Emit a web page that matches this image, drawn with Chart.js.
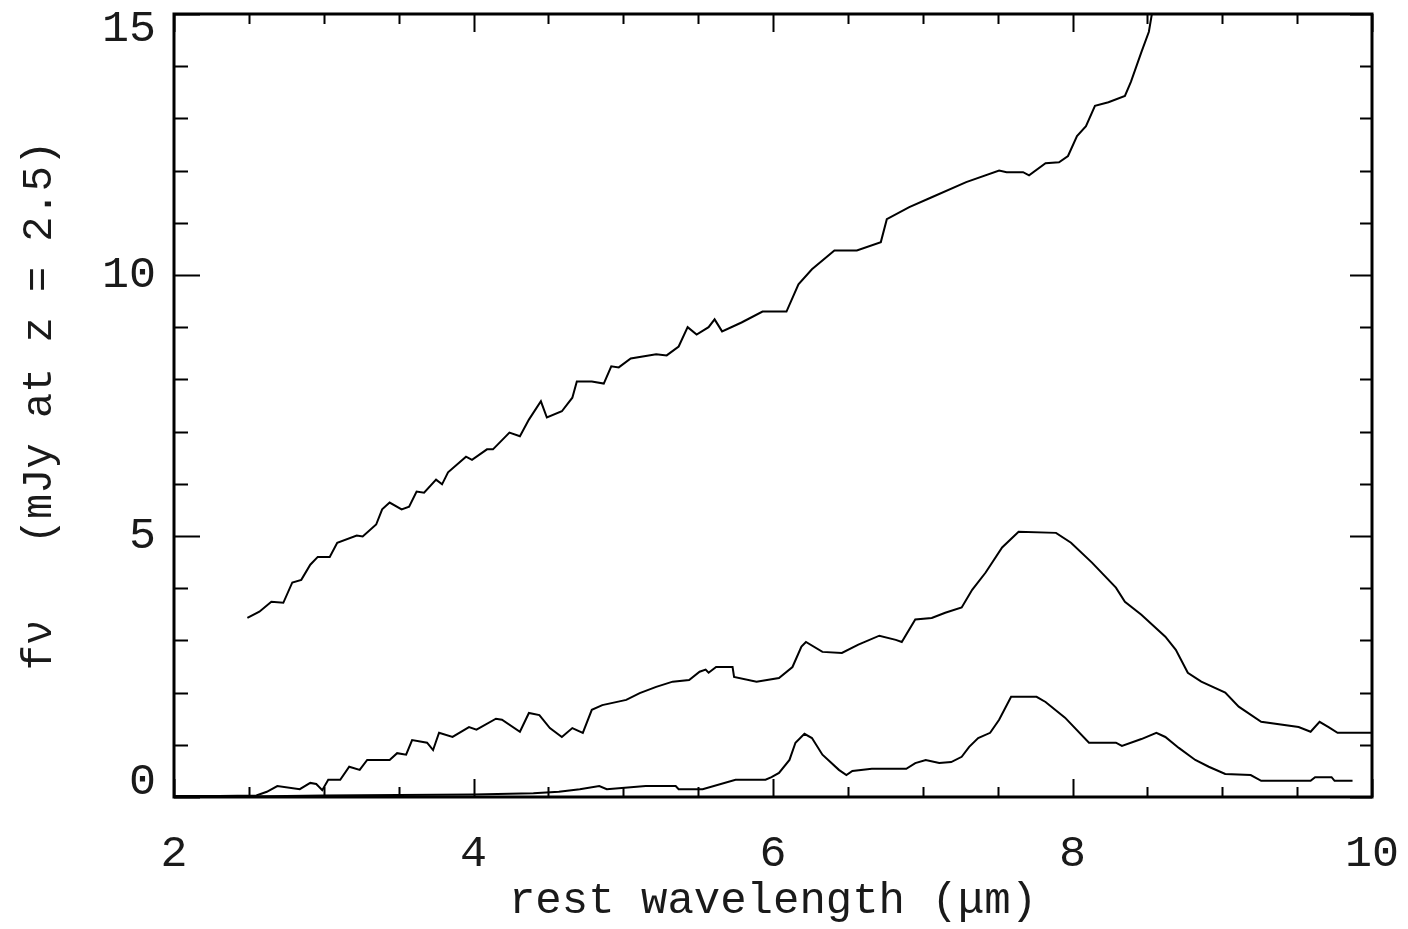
<!DOCTYPE html>
<html>
<head>
<meta charset="utf-8">
<script src="https://cdn.jsdelivr.net/npm/chart.js@4/dist/chart.umd.min.js"></script>
<style>
  html, body { margin: 0; padding: 0; background: #fff; }
  #wrap { width: 1408px; height: 929px; }
</style>
</head>
<body>
<div id="wrap"><canvas id="c" width="1408" height="929"></canvas></div>
<script>
// ---- data ----
const waveTop = [2.49,2.57,2.65,2.73,2.79,2.85,2.91,2.96,3.04,3.09,3.22,3.26,3.35,3.39,3.44,3.52,3.57,3.62,3.67,3.75,3.79,3.83,3.95,3.99,4.09,4.13,4.24,4.31,4.37,4.45,4.49,4.59,4.66,4.69,4.79,4.87,4.92,4.97,5.05,5.22,5.29,5.37,5.43,5.49,5.57,5.61,5.66,5.79,5.93,6.09,6.17,6.26,6.41,6.56,6.72,6.76,6.91,7.06,7.29,7.51,7.56,7.67,7.71,7.82,7.91,7.97,8.03,8.09,8.15,8.24,8.35,8.39,8.46,8.51,8.53,8.55];
const fluxTop = [3.43,3.55,3.74,3.72,4.11,4.16,4.45,4.60,4.60,4.87,5.01,4.99,5.22,5.51,5.64,5.51,5.56,5.85,5.83,6.08,5.99,6.22,6.52,6.46,6.66,6.66,6.98,6.91,7.23,7.58,7.27,7.39,7.65,7.96,7.96,7.92,8.25,8.23,8.40,8.48,8.46,8.63,9.00,8.86,9.00,9.15,8.92,9.09,9.30,9.30,9.82,10.11,10.47,10.47,10.63,11.07,11.30,11.49,11.78,12.00,11.97,11.97,11.91,12.14,12.16,12.28,12.66,12.85,13.24,13.31,13.43,13.70,14.27,14.66,15.0,15.4];

const waveMid = [2.00,2.30,2.55,2.62,2.69,2.84,2.91,2.95,2.99,3.03,3.11,3.17,3.24,3.29,3.44,3.49,3.55,3.59,3.69,3.73,3.77,3.86,3.97,4.02,4.15,4.19,4.31,4.37,4.44,4.51,4.59,4.66,4.73,4.79,4.86,5.02,5.11,5.22,5.33,5.44,5.51,5.55,5.57,5.62,5.73,5.74,5.89,6.04,6.13,6.19,6.22,6.33,6.46,6.57,6.71,6.82,6.86,6.95,7.06,7.15,7.26,7.33,7.42,7.53,7.64,7.89,7.99,8.13,8.29,8.35,8.46,8.62,8.69,8.77,8.86,9.02,9.11,9.26,9.51,9.59,9.65,9.71,9.77,9.97,10.0];
const fluxMid = [0.02,0.02,0.03,0.10,0.21,0.15,0.27,0.25,0.13,0.33,0.33,0.58,0.52,0.71,0.71,0.84,0.81,1.09,1.04,0.90,1.23,1.15,1.34,1.29,1.50,1.48,1.25,1.61,1.57,1.32,1.15,1.32,1.23,1.67,1.76,1.86,1.99,2.11,2.21,2.24,2.40,2.44,2.38,2.49,2.49,2.30,2.21,2.28,2.49,2.88,2.97,2.78,2.76,2.92,3.09,3.01,2.97,3.40,3.43,3.53,3.63,3.97,4.30,4.78,5.08,5.06,4.87,4.49,4.01,3.74,3.49,3.07,2.82,2.38,2.21,2.00,1.73,1.44,1.34,1.25,1.44,1.34,1.23,1.23,1.23];

const waveLow = [2.00,2.50,3.00,3.50,4.00,4.40,4.57,4.71,4.84,4.89,5.15,5.35,5.37,5.53,5.75,5.95,5.99,6.04,6.11,6.15,6.21,6.26,6.33,6.44,6.49,6.53,6.66,6.89,6.95,7.02,7.11,7.19,7.26,7.31,7.37,7.45,7.51,7.59,7.76,7.82,7.95,8.11,8.29,8.33,8.46,8.56,8.62,8.71,8.82,8.91,9.02,9.19,9.26,9.59,9.62,9.73,9.75,9.87];
const fluxLow = [0.00,0.01,0.03,0.04,0.05,0.07,0.10,0.15,0.21,0.15,0.21,0.21,0.15,0.15,0.33,0.33,0.38,0.46,0.71,1.04,1.21,1.13,0.81,0.52,0.42,0.50,0.54,0.54,0.65,0.71,0.65,0.67,0.77,0.96,1.13,1.23,1.48,1.92,1.92,1.82,1.52,1.04,1.04,0.98,1.11,1.23,1.15,0.94,0.71,0.58,0.44,0.42,0.31,0.31,0.38,0.38,0.31,0.31];

const xTitle = 'rest wavelength (\u03BCm)';
const yTitle = 'f\u03BD   (mJy at z = 2.5)';
const xRange = [2, 10];
const yRange = [0, 15];

// ---- build ----
const toPts = (xs, ys) => xs.map((v, i) => ({ x: v, y: ys[i] }));
const FONT = 'Liberation Mono';
const INK = '#1a1a1a';

const lineDs = (xs, ys) => ({
  data: toPts(xs, ys),
  borderColor: '#000',
  borderWidth: 2,
  pointRadius: 0,
  tension: 0,
  fill: false
});

const frameTicks = {
  id: 'frameTicks',
  afterDatasetsDraw(chart) {
    const { ctx, chartArea: a, scales } = chart;
    const x = scales.x, y = scales.y;
    ctx.save();
    ctx.strokeStyle = '#000';
    ctx.lineWidth = 2;
    ctx.beginPath();
    for (let v = x.min; v <= x.max + 1e-9; v += 0.5) {
      const px = Math.round(x.getPixelForValue(v)) + 0.5;
      const major = Math.abs(v / 2 - Math.round(v / 2)) < 1e-9;
      const len = major ? 18 : 10;
      ctx.moveTo(px, a.bottom); ctx.lineTo(px, a.bottom - len);
      ctx.moveTo(px, a.top); ctx.lineTo(px, a.top + len);
    }
    for (let v = y.min; v <= y.max + 1e-9; v += 1) {
      const py = Math.round(y.getPixelForValue(v)) + 0.5;
      const major = v % 5 === 0;
      ctx.moveTo(a.left, py); ctx.lineTo(a.left + (major ? 26 : 14), py);
      ctx.moveTo(a.right, py); ctx.lineTo(a.right - (major ? 22 : 12), py);
    }
    ctx.stroke();
    ctx.lineWidth = 3;
    ctx.strokeRect(a.left, a.top, a.right - a.left, a.bottom - a.top);
    ctx.restore();
  }
};

new Chart(document.getElementById('c'), {
  type: 'line',
  data: { datasets: [lineDs(waveTop, fluxTop), lineDs(waveMid, fluxMid), lineDs(waveLow, fluxLow)] },
  options: {
    responsive: false,
    animation: false,
    events: [],
    layout: { padding: { left: 0, top: 14, right: 36, bottom: 0 } },
    plugins: { legend: { display: false }, tooltip: { enabled: false } },
    scales: {
      x: {
        type: 'linear',
        min: xRange[0], max: xRange[1],
        grid: { display: false, drawTicks: false },
        border: { display: false },
        ticks: { stepSize: 2, color: INK, padding: 30, font: { family: FONT, size: 45 }, maxRotation: 0 },
        title: { display: true, text: xTitle, color: INK, font: { family: FONT, size: 44 }, padding: { top: 0, bottom: 1 } },
        afterFit(s) { s.height = 132; s.paddingLeft = 0; s.paddingRight = 0; }
      },
      y: {
        type: 'linear',
        min: yRange[0], max: yRange[1],
        grid: { display: false, drawTicks: false },
        border: { display: false },
        ticks: {
          stepSize: 5, color: INK, padding: 18,
          font: { family: FONT, size: 45, lineHeight: 30 / 45 },
          callback(v) {
            if (v === yRange[1]) return ['', String(v)];
            if (v === yRange[0]) return [String(v), ''];
            return String(v);
          }
        },
        title: { display: true, text: yTitle, color: INK, font: { family: FONT, size: 42 }, padding: { top: 15, bottom: 0 } },
        afterFit(s) { s.width = 174; s.paddingTop = 0; s.paddingBottom = 0; }
      }
    }
  },
  plugins: [frameTicks]
});
</script>
</body>
</html>
